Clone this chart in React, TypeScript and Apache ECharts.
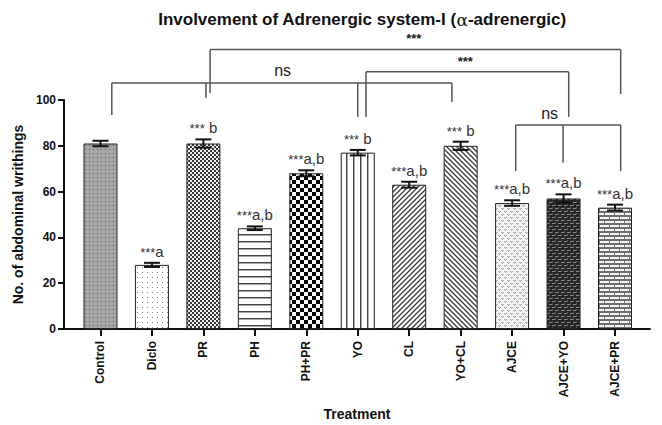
import React, { useEffect, useRef } from "react";
import * as echarts from "echarts";

const FONT = "'Liberation Sans', Arial, Helvetica, sans-serif";

// ---- data ----
const categories = ["Control", "Diclo", "PR", "PH", "PH+PR", "YO", "CL", "YO+CL", "AJCE", "AJCE+YO", "AJCE+PR"];
const means = [81, 28, 81, 44, 68, 77, 63, 80, 55, 57, 53];
const sems = [1.2, 0.9, 1.8, 0.8, 1.3, 1.2, 1.3, 1.8, 1.2, 1.8, 1.3];
const sigStars = ["", "***", "***", "***", "***", "***", "***", "***", "***", "***", "***"];
const sigLetters = ["", "a", " b", "a,b", "a,b", " b", "a,b", " b", "a,b", "a,b", "a,b"];
const patternKinds = ["dotsGray", "dotsWhite", "checkFine", "hlines", "checkBig", "vlines", "diagUp", "diagDown", "scales", "weave", "bricks"];
const yTicks = { min: 0, max: 100, interval: 20 };

// comparison brackets (x in category index units, y in axis units)
const bracketLevels = [107.4, 122.1, 112.3, 89.1];
const bracketSpans = [[0.22, 6.83], [2.13, 10.11], [5.16, 9.1], [8.07, 10.11]];
const bracketLegs = [
  [[0.22, 93.4], [2.05, 100.9], [5.0, 92.6], [6.83, 99.1]],
  [[2.13, 103.1], [10.11, 102.6]],
  [[5.16, 92.6], [9.1, 92.6]],
  [[8.07, 69], [8.99, 72.6], [10.11, 69]],
];
const bracketLabels = ["ns", "***", "***", "ns"];
const bracketLabelPos = [[3.54, 112.7], [6.09, 126.8], [7.09, 117], [8.73, 94.3]];

const X_MIN = -0.709;
const X_MAX = 10.68;

function makePattern(kind: string) {
  const c = document.createElement("canvas");
  let w = 4, h = 4;
  const sizes: Record<string, [number, number]> = {
    dotsGray: [4, 4], dotsWhite: [5, 5], checkFine: [4, 4], hlines: [4, 7], checkBig: [8, 8],
    vlines: [7, 4], diagUp: [5, 5], diagDown: [5, 5], scales: [6, 6], weave: [6, 6], bricks: [10, 8],
  };
  [w, h] = sizes[kind] || [4, 4];
  c.width = w; c.height = h;
  const g = c.getContext("2d")!;
  const bg = (col: string) => { g.fillStyle = col; g.fillRect(0, 0, w, h); };
  const r = (col: string, x: number, y: number, ww: number, hh: number) => { g.fillStyle = col; g.fillRect(x, y, ww, hh); };
  switch (kind) {
    case "dotsGray": bg("#a6a6a6"); r("#5e5e5e", 1, 1, 1, 1); break;
    case "dotsWhite": bg("#ffffff"); r("#7a7a7a", 2, 2, 1, 1); break;
    case "checkFine": bg("#eeeeee"); r("#383838", 0, 0, 2, 2); r("#383838", 2, 2, 2, 2); break;
    case "hlines": bg("#ffffff"); r("#444444", 0, 3, 4, 1); r("#aaaaaa", 0, 4, 4, 1); break;
    case "checkBig": bg("#ffffff"); r("#000000", 0, 0, 4, 4); r("#000000", 4, 4, 4, 4); break;
    case "vlines": bg("#ffffff"); r("#444444", 3, 0, 1, 4); r("#aaaaaa", 4, 0, 1, 4); break;
    case "diagUp":
    case "diagDown": {
      bg("#ffffff");
      g.strokeStyle = "#3c3c3c"; g.lineWidth = 1.3;
      g.beginPath();
      if (kind === "diagUp") {
        g.moveTo(-1, 6); g.lineTo(6, -1);
        g.moveTo(-1, 1); g.lineTo(1, -1);
        g.moveTo(4, 6); g.lineTo(6, 4);
      } else {
        g.moveTo(-1, -1); g.lineTo(6, 6);
        g.moveTo(4, -1); g.lineTo(6, 1);
        g.moveTo(-1, 4); g.lineTo(1, 6);
      }
      g.stroke();
      break;
    }
    case "scales":
      bg("#f3f3f3");
      r("#a8a8a8", 0, 1, 1, 1); r("#a8a8a8", 1, 2, 1, 1); r("#a8a8a8", 2, 1, 1, 1);
      r("#a8a8a8", 3, 4, 1, 1); r("#a8a8a8", 4, 5, 1, 1); r("#a8a8a8", 5, 4, 1, 1);
      r("#cfcfcf", 1, 1, 1, 1); r("#cfcfcf", 4, 4, 1, 1);
      break;
    case "weave":
      bg("#262626");
      r("#8a8a8a", 0, 1, 3, 1); r("#8a8a8a", 3, 4, 3, 1);
      r("#555555", 3, 0, 1, 2); r("#555555", 0, 3, 1, 2);
      break;
    case "bricks":
      bg("#6e6e6e");
      r("#f4f4f4", 0, 1, 9, 2);
      r("#f4f4f4", 5, 5, 9, 2); r("#f4f4f4", -5, 5, 9, 2);
      break;
  }
  return { image: c.toDataURL(), imageWidth: w, imageHeight: h, repeat: "repeat" };
}

export default function App() {
  const ref = useRef<HTMLDivElement>(null);
  useEffect(() => {
    const el = ref.current!;
    const chart = echarts.init(el, null, { renderer: "svg" });
    const fills = patternKinds.map(makePattern);
    const tickIdx = categories.map((_, i) => i);
    const barData = means.map((m, i) => ({ value: [i, m], itemStyle: { color: fills[i] as any } }));
    const errData = means.map((m, i) => [i, m - sems[i], m + sems[i]]);
    const bracketData = bracketLevels.map((y, k) => [bracketSpans[k][0], y]);
    const stroke = "#555";

    const option: any = {
      animation: false,
      backgroundColor: "#ffffff",
      title: {
        text: "Involvement of Adrenergic system-I ({g|α}-adrenergic)",
        left: 357,
        top: 6,
        textAlign: "center",
        textStyle: {
          fontFamily: FONT, fontSize: 17, fontWeight: "bold", color: "#111",
          rich: { g: { fontFamily: "'DejaVu Serif', serif", fontSize: 17, fontWeight: "normal", color: "#111" } },
        },
      },
      grid: { left: 64, right: 12, top: 100, bottom: 96, containLabel: false, outerBoundsMode: "none" },
      xAxis: {
        type: "value",
        min: X_MIN,
        max: X_MAX,
        name: "Treatment",
        nameLocation: "middle",
        nameGap: 78,
        nameTextStyle: { fontFamily: FONT, fontSize: 14, fontWeight: "bold", color: "#111" },
        axisLine: { show: true, onZero: false, lineStyle: { color: "#111", width: 2 } },
        axisTick: { show: true, customValues: tickIdx, length: 7, lineStyle: { color: "#111", width: 2 } },
        axisLabel: {
          customValues: tickIdx,
          rotate: 90,
          margin: 12,
          formatter: (v: number) => categories[Math.round(v)] ?? "",
          fontFamily: FONT, fontSize: 12, fontWeight: "bold", color: "#111",
        },
        splitLine: { show: false },
      },
      yAxis: {
        type: "value",
        min: yTicks.min,
        max: yTicks.max,
        interval: yTicks.interval,
        name: "No. of abdominal writhings",
        nameLocation: "middle",
        nameGap: 26,
        nameRotate: 90,
        nameTextStyle: { fontFamily: FONT, fontSize: 14, fontWeight: "bold", color: "#111" },
        axisLine: { show: true, onZero: false, lineStyle: { color: "#111", width: 2 } },
        axisTick: { show: true, length: 6, lineStyle: { color: "#111", width: 2 } },
        axisLabel: { margin: 8, fontFamily: FONT, fontSize: 12, fontWeight: "bold", color: "#111" },
        splitLine: { show: false },
      },
      series: [
        {
          type: "bar",
          data: barData,
          barWidth: 34,
          itemStyle: { borderColor: "#222", borderWidth: 1 },
          z: 2,
        },
        {
          type: "custom",
          data: errData,
          clip: false,
          silent: true,
          z: 5,
          renderItem: (params: any, api: any) => {
            const i = params.dataIndex;
            const x = api.value(0);
            const top = api.coord([x, api.value(2)]);
            const bot = api.coord([x, api.value(1)]);
            const hw = 8;
            const ls = { stroke: "#111", lineWidth: 2 };
            const children: any[] = [
              { type: "line", shape: { x1: top[0], y1: top[1], x2: bot[0], y2: bot[1] }, style: ls },
              { type: "line", shape: { x1: top[0] - hw, y1: top[1], x2: top[0] + hw, y2: top[1] }, style: ls },
              { type: "line", shape: { x1: bot[0] - hw, y1: bot[1], x2: bot[0] + hw, y2: bot[1] }, style: ls },
            ];
            if (sigStars[i] || sigLetters[i]) {
              children.push({
                type: "text",
                x: top[0],
                y: top[1] - 4,
                style: {
                  text: `{s|${sigStars[i]}}{l|${sigLetters[i]}}`,
                  align: "center",
                  verticalAlign: "bottom",
                  rich: {
                    s: { fontFamily: FONT, fontSize: 13, fill: "#333", verticalAlign: "bottom" },
                    l: { fontFamily: FONT, fontSize: 15, fill: "#333", verticalAlign: "bottom" },
                  },
                },
              });
            }
            return { type: "group", children };
          },
        },
        {
          type: "custom",
          data: bracketData,
          clip: false,
          silent: true,
          z: 6,
          renderItem: (params: any, api: any) => {
            const k = params.dataIndex;
            const y = bracketLevels[k];
            const [x0, x1] = bracketSpans[k];
            const p0 = api.coord([x0, y]);
            const p1 = api.coord([x1, y]);
            const ls = { stroke, lineWidth: 1.5 };
            const children: any[] = [
              { type: "line", shape: { x1: p0[0], y1: p0[1], x2: p1[0], y2: p1[1] }, style: ls },
            ];
            bracketLegs[k].forEach(([lx, ly]) => {
              const a = api.coord([lx, y]);
              const b = api.coord([lx, ly]);
              children.push({ type: "line", shape: { x1: a[0], y1: a[1], x2: b[0], y2: b[1] }, style: ls });
            });
            const lp = api.coord(bracketLabelPos[k]);
            const isStar = bracketLabels[k].startsWith("*");
            children.push({
              type: "text",
              x: lp[0],
              y: lp[1],
              style: {
                text: bracketLabels[k],
                align: "center",
                verticalAlign: "middle",
                fontFamily: FONT,
                fontSize: isStar ? 13 : 16,
                fontWeight: isStar ? "bold" : "normal",
                fill: "#222",
              },
            });
            return { type: "group", children };
          },
        },
      ],
    };
    chart.setOption(option);
    return () => chart.dispose();
  }, []);
  return <div ref={ref} style={{ position: "fixed", left: 0, top: 0, width: 662, height: 425 }} />;
}
